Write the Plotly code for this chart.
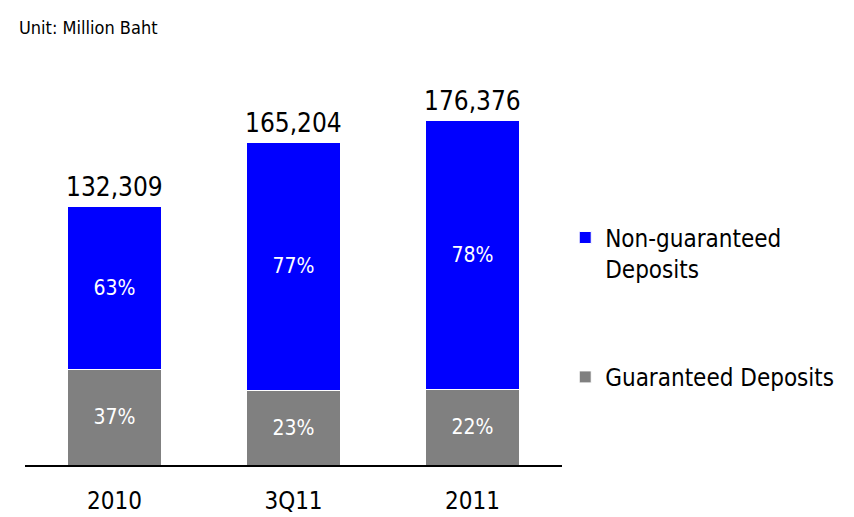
import plotly.graph_objects as go

# Deposit totals (million Baht) and the share of each deposit type
periods = ["2010", "3Q11", "2011"]
totals = [132309, 165204, 176376]
guaranteed_pct = [37, 23, 22]
non_guaranteed_pct = [63, 77, 78]

guaranteed = [t * p / 100 for t, p in zip(totals, guaranteed_pct)]
non_guaranteed = [t * p / 100 for t, p in zip(totals, non_guaranteed_pct)]

FONT = "DejaVu Sans Condensed, Tahoma, DejaVu Sans, sans-serif"

fig = go.Figure()
fig.add_trace(go.Bar(
    x=periods, y=guaranteed, name="Guaranteed Deposits",
    marker=dict(color="#808080", line=dict(color="white", width=1)),
    text=[f"{p}%" for p in guaranteed_pct], textposition="inside",
    insidetextanchor="middle", textfont=dict(color="white", size=21, family=FONT),
    width=0.52, legendgroup="g", legendrank=2,
))
fig.add_trace(go.Bar(
    x=periods, y=non_guaranteed, name="Non-guaranteed<br>Deposits",
    marker=dict(color="#0000FF", line=dict(color="white", width=1)),
    text=[f"{p}%" for p in non_guaranteed_pct], textposition="inside",
    insidetextanchor="middle", textfont=dict(color="white", size=21, family=FONT),
    width=0.52, legendgroup="n", legendrank=1,
))

# Total above each stack; category axis positions are given by index
for i, t in enumerate(totals):
    fig.add_annotation(x=i, y=t, xref="x", yref="y", text=f"{t:,}", showarrow=False,
                       yanchor="bottom", yshift=2,
                       font=dict(size=26, color="black", family=FONT))

fig.add_annotation(xref="paper", yref="paper", x=-0.015, y=1.123,
                   xanchor="left", yanchor="middle", text="Unit: Million Baht",
                   showarrow=False, font=dict(size=18, color="black", family=FONT))

fig.update_layout(
    width=854, height=517,
    margin=dict(l=25, r=292, t=75, b=52, autoexpand=False),
    barmode="stack",
    paper_bgcolor="white", plot_bgcolor="white",
    font=dict(family=FONT, color="black"),
    showlegend=True,
    legend=dict(x=1.006, y=0.64, xanchor="left", yanchor="top",
                traceorder="grouped", tracegroupgap=74, valign="top",
                font=dict(size=24, family=FONT, color="black"),
                bgcolor="rgba(0,0,0,0)"),
    xaxis=dict(type="category", categoryorder="array", categoryarray=periods,
               range=[-0.5, 2.5], automargin=False,
               showline=True, linecolor="black", linewidth=1.5,
               ticks="outside", ticklen=13, tickcolor="rgba(0,0,0,0)",
               tickfont=dict(size=24, family=FONT, color="black"), showgrid=False),
    yaxis=dict(range=[0, 199500], visible=False, showgrid=False, automargin=False),
)

fig.write_html("out.html")
